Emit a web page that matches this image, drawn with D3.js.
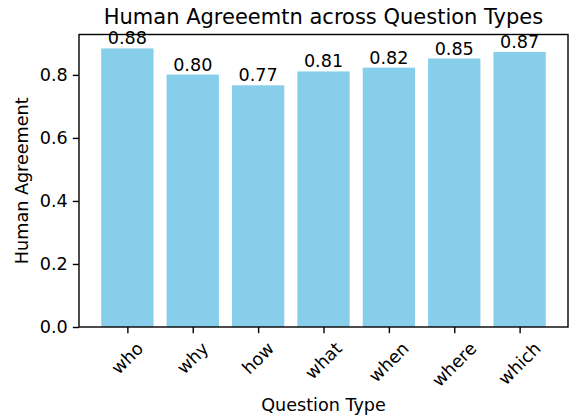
<!DOCTYPE html>
<html>
<head>
<meta charset="utf-8">
<script src="https://cdn.jsdelivr.net/npm/d3@7"></script>
<style>
  body { margin: 0; background: #fff; }
  text { font-family: "DejaVu Sans", sans-serif; fill: #000; }
</style>
</head>
<body>
<svg id="chart" width="574" height="417"></svg>
<script>
// data
const questionTypes = ["who", "why", "how", "what", "when", "where", "which"];
const agreement = [0.884, 0.801, 0.767, 0.811, 0.823, 0.852, 0.873];
const yTicks = [0.0, 0.2, 0.4, 0.6, 0.8];

const W = 574, H = 417;
const FS = 17.6, TITLE_FS = 21;
const margin = {top: 34.5, right: 6, bottom: 90, left: 79};
const innerW = W - margin.left - margin.right,
      innerH = H - margin.top - margin.bottom;

const svg = d3.select("#chart");
const g = svg.append("g").attr("transform", `translate(${margin.left},${margin.top})`);

// matplotlib style: bar width 0.8, 5% margins
const lo = -0.4, hi = questionTypes.length - 1 + 0.4, pad = (hi - lo) * 0.05;
const x = d3.scaleLinear().domain([lo - pad, hi + pad]).range([0, innerW]);
const yMax = d3.max(agreement) * 1.05;
const y = d3.scaleLinear().domain([0, yMax]).range([innerH, 0]);

// bars
g.selectAll("rect.bar")
  .data(agreement)
  .enter()
  .append("rect")
  .attr("class", "bar")
  .attr("x", (d, i) => x(i - 0.4))
  .attr("width", (d, i) => x(i + 0.4) - x(i - 0.4))
  .attr("y", d => y(d))
  .attr("height", d => innerH - y(d))
  .attr("fill", "#87ceeb");

// value labels
g.selectAll("text.val")
  .data(agreement)
  .enter()
  .append("text")
  .attr("class", "val")
  .attr("x", (d, i) => x(i))
  .attr("y", d => y(d) - 4)
  .attr("text-anchor", "middle")
  .style("font-size", FS + "px")
  .text(d => d.toFixed(2));

// y axis
const yAxis = g.append("g")
  .call(d3.axisLeft(y).tickValues(yTicks).tickFormat(d3.format(".1f")).tickSizeOuter(0).tickSize(6.2).tickPadding(5));
yAxis.selectAll("text").style("font-size", FS + "px").style("font-family", "DejaVu Sans");

// x axis
const xAxis = g.append("g")
  .attr("transform", `translate(0,${innerH})`)
  .call(d3.axisBottom(x).tickValues(d3.range(questionTypes.length)).tickFormat(i => questionTypes[i]).tickSizeOuter(0).tickSize(6.2));
xAxis.selectAll("text").remove();
yAxis.select(".domain").remove();
xAxis.select(".domain").remove();
g.selectAll(".tick line").attr("stroke-width", 1.4);

// rotated x tick labels, bbox centred under tick (matplotlib rotation=45)
questionTypes.forEach((q, i) => {
  const t = g.append("text")
    .attr("text-anchor", "middle")
    .attr("dominant-baseline", "central")
    .style("font-size", FS + "px")
    .text(q);
  const w = t.node().getComputedTextLength();
  const h = FS * 1.16;
  const side = (w + h) / Math.SQRT2;
  const cx = x(i), cy = innerH + 6.2 + 5 + side / 2;
  t.attr("transform", `translate(${cx},${cy}) rotate(-45)`);
});

// axes frame
g.append("rect")
  .attr("width", innerW)
  .attr("height", innerH)
  .attr("fill", "none")
  .attr("stroke", "#000")
  .attr("stroke-width", 1.4);

// titles
svg.append("text")
  .attr("x", margin.left + innerW / 2)
  .attr("y", 24)
  .attr("text-anchor", "middle")
  .style("font-size", TITLE_FS + "px")
  .text("Human Agreeemtn across Question Types");

svg.append("text")
  .attr("x", margin.left + innerW / 2)
  .attr("y", 411)
  .attr("text-anchor", "middle")
  .style("font-size", FS + "px")
  .text("Question Type");

svg.append("text")
  .attr("transform", `translate(28,${margin.top + innerH / 2}) rotate(-90)`)
  .attr("text-anchor", "middle")
  .style("font-size", FS + "px")
  .text("Human Agreement");
</script>
</body>
</html>
